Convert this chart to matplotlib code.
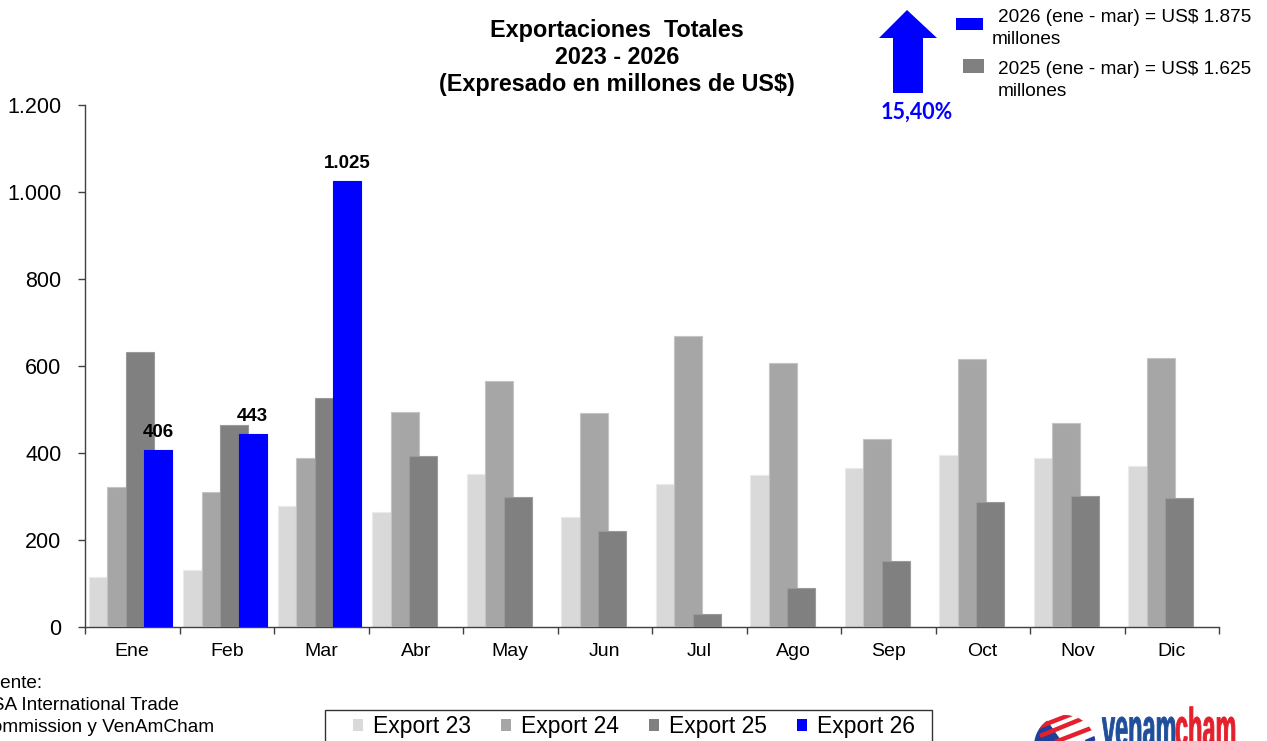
import matplotlib
matplotlib.use("Agg")
import matplotlib.pyplot as plt
from matplotlib.patches import Rectangle, Polygon, Patch, PathPatch, Circle, Wedge
from matplotlib.lines import Line2D
from matplotlib.textpath import TextPath
from matplotlib.font_manager import FontProperties
from matplotlib.transforms import Affine2D

plt.rcParams['font.family'] = ['Liberation Sans', 'DejaVu Sans']

months = ['Ene', 'Feb', 'Mar', 'Abr', 'May', 'Jun', 'Jul', 'Ago', 'Sep', 'Oct', 'Nov', 'Dic']
exp23 = [115, 132, 278, 264, 352, 252, 329, 349, 366, 396, 388, 369]
exp24 = [322, 310, 389, 495, 565, 493, 670, 608, 432, 616, 468, 618]
exp25 = [633, 465, 527, 392, 300, 220, 30, 90, 152, 287, 301, 296]
exp26 = [406, 443, 1025]
series_names = ['Export 23', 'Export 24', 'Export 25', 'Export 26']
yticks = [0, 200, 400, 600, 800, 1000, 1200]

colors = ['#D9D9D9', '#A6A6A6', '#808080', '#0000FF']
edges = ['#EBEBEB', '#C4C4C4', '#9A9A9A', '#0000FF']

W, H = 1267, 741
fig = plt.figure(figsize=(W / 100, H / 100), dpi=100)

def fx(px):
    return px / W

def fy(py):
    return 1 - py / H

ax = fig.add_axes([fx(85), fy(627), fx(1219) - fx(85), fy(105) - fy(627)])

width = 0.296
step = 0.195
start = 0.042
series = [exp23, exp24, exp25, exp26]
for j, vals in enumerate(series):
    xs = [i + start + step * j for i in range(len(vals))]
    ax.bar(xs, vals, width=width, align='edge', color=colors[j],
           edgecolor=edges[j], linewidth=0.8, zorder=2 + j)

# value labels on 2026 bars
for i, v in enumerate(exp26):
    xc = i + start + step * 3 + width / 2
    lab = f"{v:,}".replace(',', '.')
    ax.text(xc, v + 40, lab, ha='center', va='center', fontsize=13.5,
            fontweight='bold', color='black', zorder=10)

ax.set_xlim(0, 12)
ax.set_ylim(0, 1200)
ax.set_yticks(yticks)
ax.set_yticklabels([f"{t:,}".replace(',', '.') for t in yticks], fontsize=15.5)
ax.set_xticks(range(13))
ax.set_xticklabels([''] * 13)
ax.set_xticks([i + 0.5 for i in range(12)], minor=True)
ax.set_xticklabels(months, minor=True, fontsize=14)
ax.tick_params(axis='x', which='major', direction='out', length=5, color='#404040', width=1)
ax.tick_params(axis='x', which='minor', length=0, pad=11.5)
ax.tick_params(axis='y', direction='out', length=5, color='#404040', width=1, pad=12)
for s in ['top', 'right']:
    ax.spines[s].set_visible(False)
for s in ['left', 'bottom']:
    ax.spines[s].set_color('#404040')
    ax.spines[s].set_linewidth(1)

# Title
for txt, yy in zip(['Exportaciones  Totales', '2023 - 2026', '(Expresado en millones de US$)'], [30, 57, 85]):
    fig.text(fx(617), fy(yy), txt, ha='center', va='center', fontsize=16.8, fontweight='bold')

# Top-right annotation: arrow
arrow_pts = [(907, 10), (937, 38), (923, 38), (923, 93), (893, 93), (893, 38), (879, 38)]
fig.patches.append(Polygon([(fx(x), fy(y)) for x, y in arrow_pts], closed=True,
                           transform=fig.transFigure, facecolor='#0000FF', edgecolor='none'))
fig.text(fx(917), fy(112), '15,40%', ha='center', va='center', fontsize=15.5,
         fontweight='bold', color='#0000FF', family=['Lato', 'DejaVu Sans'])

fig.patches.append(Rectangle((fx(956), fy(30)), fx(983) - fx(956), fy(18) - fy(30),
                             transform=fig.transFigure, facecolor='#0000FF', edgecolor='none'))
fig.patches.append(Rectangle((fx(963), fy(73)), fx(984) - fx(963), fy(59) - fy(73),
                             transform=fig.transFigure, facecolor='#808080', edgecolor='none'))
fs_ann = 13.7
fig.text(fx(998), fy(18), '2026 (ene - mar) = US$ 1.875', ha='left', va='center', fontsize=fs_ann)
fig.text(fx(992), fy(40), 'millones', ha='left', va='center', fontsize=fs_ann)
fig.text(fx(998), fy(69), '2025 (ene - mar) = US$ 1.625', ha='left', va='center', fontsize=fs_ann)
fig.text(fx(998), fy(91), 'millones', ha='left', va='center', fontsize=fs_ann)

# Source text (partly cut at the left edge, as in the original)
for txt, yy in zip(['Fuente:', 'USA International Trade', 'Commission y VenAmCham'], [684, 705, 727]):
    fig.text(fx(-22), fy(yy), txt, ha='left', va='center', fontsize=13.7)

# Bottom legend
handles = [Patch(facecolor=c, edgecolor='none') for c in colors]
fig.legend(handles, series_names, loc='center', bbox_to_anchor=(fx(634), fy(727)),
           ncol=4, frameon=False, fontsize=16.5, handlelength=0.44, handleheight=0.44,
           handletextpad=0.44, columnspacing=1.3, borderaxespad=0, borderpad=0)
fig.patches.append(Rectangle((fx(325), fy(750)), fx(932) - fx(325), fy(710) - fy(750),
                             transform=fig.transFigure, facecolor='none', edgecolor='#333333',
                             linewidth=1))

# Logo approximation (bottom right, cut off)
cx, cy, r = 1065, H - 746, 31
clip = Circle((cx, cy), r, transform=None, facecolor='white', edgecolor='none')
fig.patches.append(clip)
wb = Wedge((cx, cy), r, 125, 250, transform=None, facecolor='#1F3F99', edgecolor='none')
fig.patches.append(wb)
for dx, dy in [(-22, -3), (-16, -10), (-24, -13), (-10, -2), (-18, -19)]:
    fig.patches.append(Circle((cx + dx, cy + dy), 1.3, transform=None,
                              facecolor='white', edgecolor='none'))
stripes = [((1036, 728), (1072, 714), '#E4202D'),
           ((1040, 736), (1084, 718), '#E4202D'),
           ((1050, 744), (1094, 727), '#E4202D'),
           ((1062, 752), (1100, 736), '#1F3F99'),
           ((1072, 713), (1090, 719), '#F5D000')]
for (x0, y0), (x1, y1), col in stripes:
    ln = Line2D([x0, x1], [H - y0, H - y1], transform=None, color=col, linewidth=3.2,
                solid_capstyle='butt')
    ln.set_clip_path(clip)
    fig.add_artist(ln)

prop = FontProperties(family='Liberation Sans', weight='bold')
for word, x0, col in [('venam', 1102, '#1F4E9A'), ('cham', 1175, '#E4202D')]:
    tp = TextPath((0, 0), word, size=1, prop=prop)
    tr = Affine2D().scale(23.5 / W, 55 / H).translate(fx(x0), fy(746.5)) + fig.transFigure
    fig.patches.append(PathPatch(tp, transform=tr, facecolor=col, edgecolor=col, linewidth=0.6))

fig.savefig('out.png', dpi=100)
